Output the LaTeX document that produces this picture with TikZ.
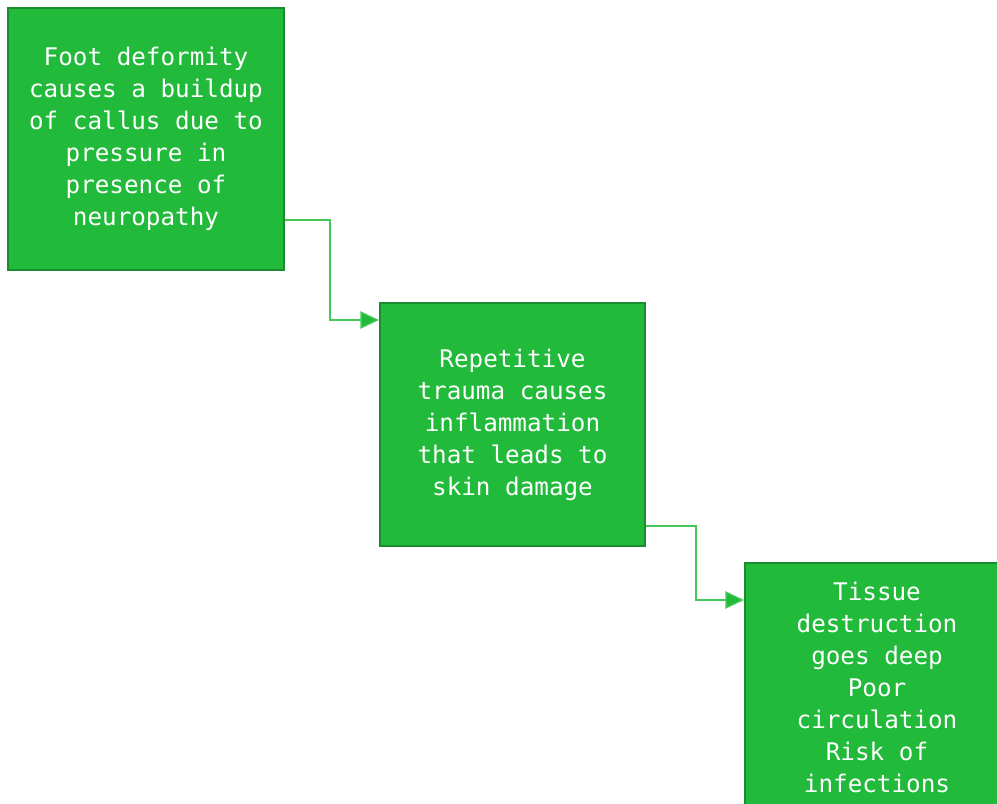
\documentclass[tikz,border=0pt]{standalone}
\usepackage{fontspec}
\setmonofont{DejaVu Sans Mono}
\usetikzlibrary{arrows.meta}
\definecolor{boxfill}{RGB}{33,186,58}
\definecolor{boxline}{RGB}{26,140,46}
\definecolor{linkline}{RGB}{70,200,88}
\tikzset{
  stepbox/.style={draw=boxline, line width=1.5pt, fill=boxfill, text=white,
    font=\ttfamily\fontsize{18.2pt}{24pt}\selectfont, align=center,
    inner sep=0pt, anchor=north west},
  link/.style={draw=linkline, line width=1.1pt,
    -{Triangle[length=14pt,width=13pt,fill=boxfill]}}
}
\begin{document}
\begin{tikzpicture}[x=0.75pt,y=-0.75pt]
  \clip (0,0) rectangle (997,804);
  \fill[white] (0,0) rectangle (997,804);
  % the three stages, one box each
  \node[stepbox, minimum width=207pt, minimum height=196.5pt] (b1) at (7,7)
    {Foot deformity\\causes a buildup\\of callus due to\\pressure in\\presence of\\neuropathy};
  \node[stepbox, minimum width=198.75pt, minimum height=182.25pt] (b2) at (379,302)
    {Repetitive\\trauma causes\\inflammation\\that leads to\\skin damage};
  \node[stepbox, minimum width=198pt, minimum height=186pt] (b3) at (744,562)
    {Tissue\\destruction\\goes deep\\Poor\\circulation\\Risk of\\infections};
  % elbow connectors between the stages
  \draw[link] ([yshift=38.25pt]b1.south east) -- ++(45,0)
    |- ([yshift=-13.5pt]b2.north west);
  \draw[link] ([yshift=15.75pt]b2.south east) -- ++(50,0)
    |- ([yshift=-28.5pt]b3.north west);
\end{tikzpicture}
\end{document}
